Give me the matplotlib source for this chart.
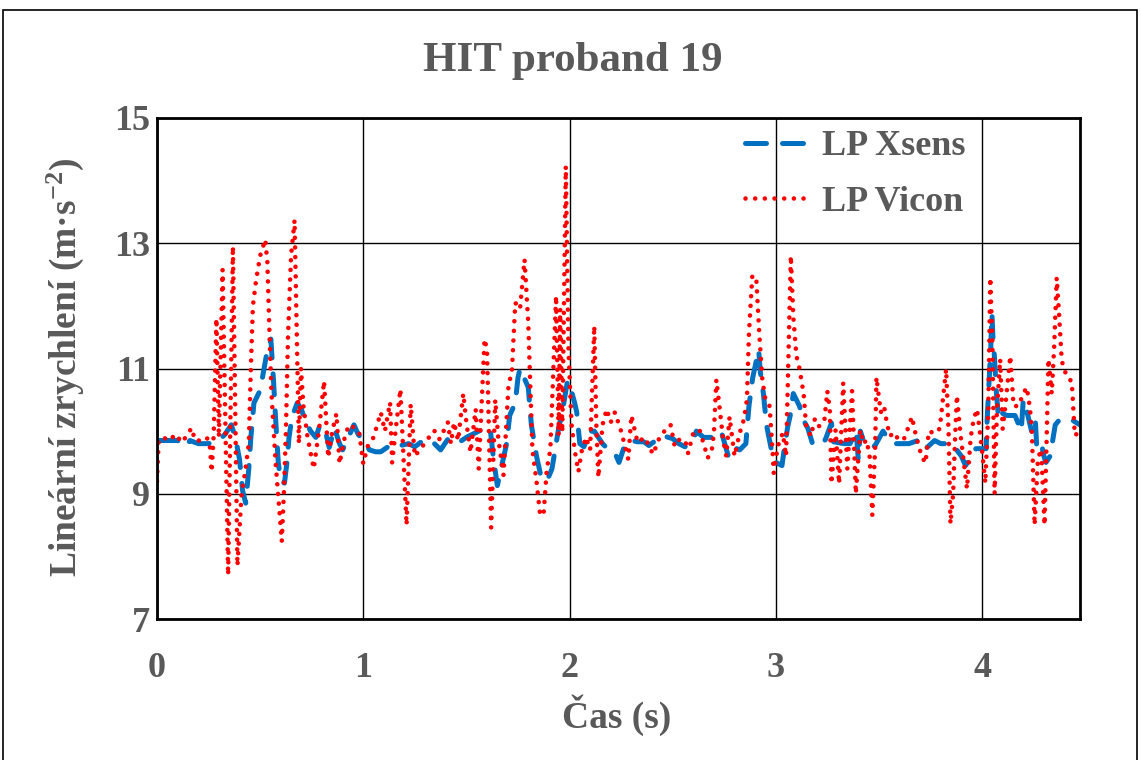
import numpy as np
import matplotlib
matplotlib.use("Agg")
import matplotlib.pyplot as plt
from matplotlib.patches import Rectangle

plt.rcParams['font.family'] = ['Liberation Serif', 'DejaVu Serif']
plt.rcParams['font.weight'] = 'bold'
plt.rcParams['mathtext.fontset'] = 'custom'
plt.rcParams['mathtext.bf'] = 'Liberation Serif:bold'
plt.rcParams['mathtext.rm'] = 'Liberation Serif:bold'
plt.rcParams['mathtext.default'] = 'bf'

# LP Vicon - cas (s) a zrychleni (m/s2)
vicon_t = [0.000, 0.008, 0.03, 0.06, 0.09, 0.12, 0.15, 0.167, 0.185, 0.21, 0.24, 0.255, 0.265, 0.275,
           0.288, 0.300, 0.318, 0.345, 0.368, 0.390, 0.41, 0.425, 0.445, 0.455, 0.465, 0.48, 0.50, 0.525,
           0.535, 0.545, 0.555, 0.575, 0.605, 0.615, 0.625, 0.635, 0.650, 0.667, 0.678, 0.688, 0.698, 0.71,
           0.73, 0.76, 0.785, 0.81, 0.83, 0.85, 0.87, 0.885, 0.91, 0.93, 0.96, 0.98, 1.00, 1.02, 1.05,
           1.085, 1.105, 1.13, 1.14, 1.16, 1.18, 1.195, 1.21, 1.23, 1.25, 1.29, 1.31, 1.335, 1.35, 1.37,
           1.41, 1.425, 1.44, 1.46, 1.485, 1.50, 1.52, 1.545, 1.56, 1.588, 1.60, 1.62, 1.64, 1.655, 1.68,
           1.705, 1.72, 1.737, 1.76, 1.782, 1.80, 1.82, 1.84, 1.858, 1.875, 1.89, 1.907, 1.935, 1.947,
           1.955, 1.965, 1.982, 1.995, 2.01, 2.027, 2.043, 2.06, 2.08, 2.10, 2.12, 2.13, 2.14, 2.16, 2.18,
           2.20, 2.22, 2.25, 2.285, 2.30, 2.33, 2.365, 2.405, 2.44, 2.49, 2.51, 2.53, 2.56, 2.575, 2.60,
           2.63, 2.655, 2.67, 2.69, 2.70, 2.712, 2.725, 2.745, 2.76, 2.776, 2.80, 2.825, 2.845, 2.86, 2.87,
           2.886, 2.905, 2.92, 2.935, 2.95, 2.97, 2.985, 2.99, 3.01, 3.034, 3.05, 3.064, 3.073, 3.085,
           3.10, 3.115, 3.135, 3.147, 3.17, 3.19, 3.21, 3.235, 3.25, 3.262, 3.27, 3.29, 3.307, 3.327,
           3.347, 3.37, 3.388, 3.41, 3.425, 3.44, 3.455, 3.468, 3.482, 3.488, 3.509, 3.525, 3.54, 3.555,
           3.57, 3.597, 3.62, 3.645, 3.66, 3.68, 3.707, 3.726, 3.742, 3.765, 3.79, 3.798, 3.826, 3.838,
           3.847, 3.86, 3.868, 3.878, 3.895, 3.91, 3.927, 3.945, 3.96, 3.976, 4.0, 4.016, 4.03, 4.04,
           4.05, 4.061, 4.072, 4.088, 4.10, 4.113, 4.137, 4.153, 4.177, 4.20, 4.217, 4.233, 4.242, 4.255,
           4.271, 4.287, 4.303, 4.314, 4.322, 4.338, 4.35, 4.362, 4.373, 4.386, 4.395, 4.42, 4.435, 4.45,
           4.475]
vicon_a = [9.20, 9.85, 9.90, 9.85, 9.95, 9.82, 9.95, 10.05, 9.85, 9.85, 9.90, 9.82, 9.35, 9.95,
           11.80, 9.90, 12.58, 7.70, 12.95, 7.85, 9.00, 9.30, 9.80, 11.00, 12.00, 12.40, 12.80, 13.06,
           12.70, 11.60, 10.60, 9.50, 8.24, 9.00, 10.00, 11.50, 12.80, 13.37, 11.50, 9.80, 11.00, 10.40,
           9.90, 9.40, 10.00, 10.80, 9.58, 10.00, 10.28, 9.48, 9.90, 10.10, 10.05, 9.98, 9.48, 9.75, 9.90,
           10.30, 10.00, 10.46, 9.50, 10.10, 10.67, 9.60, 8.50, 10.43, 9.60, 9.77, 9.85, 10.00, 10.00, 9.87,
           10.14, 9.80, 10.14, 9.85, 10.60, 10.14, 9.66, 10.35, 9.40, 11.47, 11.30, 8.46, 10.50, 9.87, 9.30,
           10.78, 10.90, 12.05, 11.95, 12.74, 11.73, 9.70, 9.20, 8.65, 8.70, 9.40, 9.70, 12.16, 9.93,
           11.95, 9.98, 14.23, 11.30, 10.10, 9.66, 9.35, 9.70, 9.90, 9.70, 11.68, 10.10, 9.26, 10.10, 10.35,
           10.14, 10.30, 10.00, 9.55, 10.25, 9.82, 9.90, 9.63, 9.93, 10.10, 9.76, 9.86, 9.86, 9.65, 9.97,
           10.02, 9.75, 9.57, 9.70, 9.97, 10.82, 10.45, 9.86, 9.60, 10.23, 9.60, 9.97, 10.18, 10.50, 11.56,
           12.47, 12.47, 11.56, 10.82, 10.50, 10.40, 9.65, 9.33, 9.76, 9.97, 9.60, 11.56, 12.80, 11.83,
           11.20, 11.00, 10.60, 10.08, 9.92, 10.20, 10.08, 10.15, 10.64, 10.35, 9.16, 10.02, 9.16, 10.77,
           9.40, 10.64, 9.00, 10.02, 9.80, 9.86, 9.60, 8.66, 9.76, 10.86, 10.30, 10.40, 10.10, 9.92,
           9.98, 9.86, 9.86, 10.08, 10.23, 9.92, 9.60, 9.49, 10.00, 9.97, 10.00, 10.13, 10.99, 9.97,
           8.52, 9.00, 9.77, 10.57, 9.97, 9.55, 9.08, 9.90, 10.20, 10.35, 9.70, 9.17, 10.30, 12.45,
           11.47, 9.00, 10.30, 11.15, 10.04, 10.40, 11.20, 10.40, 10.40, 10.60, 10.70, 10.35, 9.97, 8.50,
           9.56, 9.71, 8.50, 9.97, 11.15, 10.60, 11.36, 12.45, 11.90, 11.15, 11.00, 10.83, 10.80, 9.93,
           10.00]

# LP Xsens
xsens_t = [0.00, 0.05, 0.10, 0.135, 0.16, 0.20, 0.25, 0.30, 0.33, 0.36, 0.38, 0.40, 0.415, 0.43,
           0.445, 0.455, 0.47, 0.50, 0.53, 0.552, 0.565, 0.575, 0.588, 0.60, 0.618, 0.63, 0.64, 0.655,
           0.68, 0.70, 0.72, 0.745, 0.77, 0.79, 0.82, 0.835, 0.86, 0.885, 0.90, 0.955, 0.975, 1.00, 1.03,
           1.06, 1.085, 1.12, 1.15, 1.18, 1.22, 1.25, 1.29, 1.33, 1.375, 1.41, 1.455, 1.50, 1.56, 1.595,
           1.615, 1.63, 1.65, 1.665, 1.695, 1.71, 1.737, 1.75, 1.76, 1.80, 1.815, 1.84, 1.86, 1.89, 1.915,
           1.93, 1.95, 1.962, 1.99, 2.00, 2.025, 2.035, 2.05, 2.07, 2.10, 2.12, 2.16, 2.19, 2.22, 2.24,
           2.27, 2.30, 2.33, 2.36, 2.385, 2.45, 2.50, 2.53, 2.56, 2.60, 2.615, 2.65, 2.69, 2.735, 2.77,
           2.79, 2.825, 2.855, 2.87, 2.888, 2.917, 2.925, 2.94, 2.955, 2.97, 2.985, 3.00, 3.03, 3.045,
           3.058, 3.07, 3.085, 3.10, 3.115, 3.13, 3.155, 3.18, 3.20, 3.24, 3.27, 3.28, 3.33, 3.36, 3.39,
           3.40, 3.41, 3.43, 3.45, 3.48, 3.52, 3.55, 3.58, 3.645, 3.69, 3.72, 3.77, 3.80, 3.855, 3.90,
           3.92, 3.97, 4.02, 4.025, 4.035, 4.042, 4.048, 4.055, 4.06, 4.07, 4.08, 4.09, 4.12, 4.16, 4.19,
           4.20, 4.215, 4.24, 4.258, 4.266, 4.29, 4.30, 4.31, 4.33, 4.355, 4.375, 4.435, 4.475]
xsens_a = [9.85, 9.85, 9.85, 9.75, 9.85, 9.80, 9.80, 9.85, 9.95, 10.10, 9.90, 9.55, 9.05, 8.85,
           9.40, 9.90, 10.45, 10.65, 11.20, 11.47, 10.80, 10.20, 9.50, 9.20, 9.17, 9.50, 9.90, 10.23,
           10.45, 10.35, 10.15, 10.00, 9.90, 10.10, 9.95, 9.74, 10.05, 9.80, 9.70, 10.10, 9.95, 9.85, 9.70,
           9.67, 9.67, 9.75, 9.80, 9.77, 9.80, 9.75, 9.85, 9.85, 9.70, 9.87, 9.80, 9.90, 10.00, 10.05,
           10.05, 9.60, 9.13, 9.35, 9.80, 10.25, 10.45, 10.85, 11.00, 10.70, 10.10, 9.60, 9.30, 9.20, 9.40,
           9.70, 10.10, 10.24, 10.80, 10.75, 10.45, 10.30, 9.80, 9.75, 10.00, 10.00, 9.80, 9.70, 9.65, 9.50,
           9.80, 9.85, 9.83, 9.83, 9.77, 9.93, 9.88, 9.80, 9.75, 9.85, 10.00, 9.90, 9.90, 10.00, 9.60,
           9.75, 9.70, 9.80, 10.40, 10.85, 11.30, 10.95, 10.60, 10.10, 9.85, 9.60, 9.50, 9.45, 9.80,
           10.07, 10.25, 10.60, 10.50, 10.40, 10.20, 10.05, 9.78, 9.78, 9.86, 10.13, 9.83, 9.80, 9.80, 10.00,
           9.55, 10.00, 9.80, 9.76, 9.76, 10.00, 9.85, 9.80, 9.80, 9.85, 9.70, 9.85, 9.80, 9.80, 9.60,
           9.45, 9.72, 9.72, 10.20, 10.85, 11.30, 11.87, 11.35, 11.20, 10.60, 10.20, 10.30, 10.25, 10.25, 10.00,
           10.50, 10.35, 10.00, 10.20, 9.70, 9.77, 9.60, 9.50, 9.60, 10.10, 10.18, 10.18, 10.10]

x_ticks = [0, 1, 2, 3, 4]
y_ticks = [7, 9, 11, 13, 15]

gray = '#595959'
W, H = 1141, 760

fig = plt.figure(figsize=(W / 100, H / 100), dpi=100)
ax = fig.add_axes([157/W, 1 - 619/H, (1080 - 157)/W, (619 - 118)/H])

ax.plot(xsens_t, xsens_a, color='#0070C0', lw=3.6, linestyle=(0, (4.2, 3.2)),
        dash_capstyle='round', label='LP Xsens')
ax.plot(vicon_t, vicon_a, color='#FF0000', lw=3.3, linestyle=(0, (0.01, 2.1)),
        dash_capstyle='round', label='LP Vicon')

ax.set_xlim(0, 4.475)
ax.set_ylim(7, 15)
ax.set_xticks(x_ticks)
ax.set_yticks(y_ticks)
ax.grid(True, color='black', lw=1.0)
ax.set_axisbelow(True)
ax.tick_params(length=0, labelsize=26, labelcolor=gray)
ax.tick_params(axis='x', pad=24)
ax.tick_params(axis='y', pad=5)
for lab in ax.get_xticklabels() + ax.get_yticklabels():
    lab.set_fontweight('bold')
for s in ax.spines.values():
    s.set_linewidth(2.0)
    s.set_color('black')

fig.text(617/W, 1 - 715/H, 'Čas (s)', fontsize=27, color=gray, fontweight='bold',
         ha='center', va='center')
fig.text(65/W, 1 - 367/H, 'Lineární zrychlení (m·s$^{-2}$)', fontsize=27, color=gray,
         fontweight='bold', rotation=90, ha='center', va='center')
fig.text(573/W, 1 - 61/H, 'HIT proband 19', fontsize=31, color=gray, fontweight='bold',
         ha='center', va='center')

leg = ax.legend(loc='upper left', bbox_to_anchor=((745 - 157)/923, (619 - 130)/501),
                frameon=False, fontsize=26, borderpad=0, borderaxespad=0,
                handlelength=1.67, handletextpad=0.47, labelspacing=0.62)
for txt in leg.get_texts():
    txt.set_color(gray)
    txt.set_fontweight('bold')

fig.patches.append(Rectangle((3/W, -0.01), 1134/W, 1.01 - 10/H, transform=fig.transFigure,
                             fill=False, edgecolor='black', lw=1.2))

fig.savefig('out.png', dpi=100)
